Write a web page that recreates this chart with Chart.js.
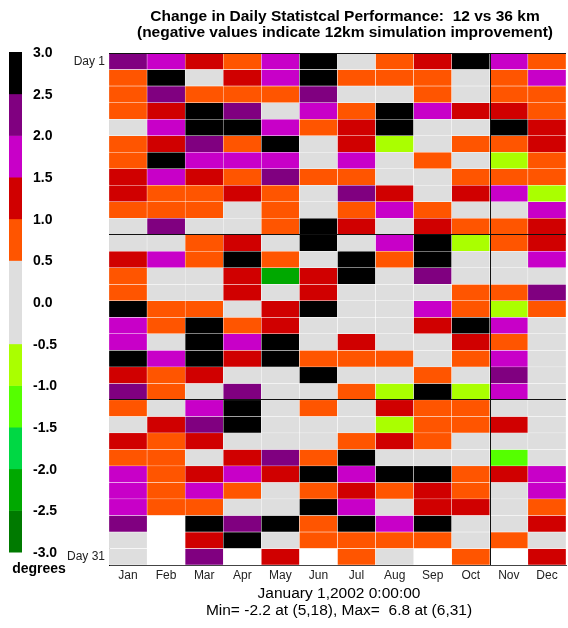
<!DOCTYPE html>
<html>
<head>
<meta charset="utf-8">
<title>Change in Daily Statistcal Performance: 12 vs 36 km</title>
<script src="https://cdn.jsdelivr.net/npm/chart.js@4/dist/chart.umd.min.js"></script>
<style>
    html, body { margin: 0; padding: 0; background: #fff; }
    #wrap { width: 568px; height: 628px; }
</style>
</head>
<body>
<div id="wrap"><canvas id="perfChart" width="568" height="628"></canvas></div>
<script>
// ===================================
// Data (day 1..31 per month, null = no day)
// ===================================
const months = ['Jan', 'Feb', 'Mar', 'Apr', 'May', 'Jun', 'Jul', 'Aug', 'Sep', 'Oct', 'Nov', 'Dec'];

const jan = [2.2,0.7,0.7,0.7,0.1,0.7,0.7,1.2,1.2,0.7,0.1,0.1,1.2,0.7,0.7,2.8,1.7,1.7,2.8,1.2,2.2,0.7,0.1,1.2,0.7,1.7,1.7,1.7,2.2,0.1,0.1];
const feb = [1.7,2.8,2.2,1.2,1.7,1.2,2.8,1.7,0.7,0.7,2.2,0.1,1.7,0.1,0.1,0.7,0.7,0.1,1.7,0.7,0.7,0.1,1.2,0.7,0.7,0.7,0.7,0.7,null,null,null];
const mar = [1.2,0.1,0.7,2.8,2.8,2.2,1.7,1.2,0.7,0.7,0.1,0.7,0.7,0.1,0.1,0.7,2.8,2.8,2.8,1.2,0.1,1.7,2.2,1.2,0.1,1.2,1.7,0.7,2.8,1.2,2.2];
const apr = [0.7,1.2,0.7,2.2,2.8,0.7,1.7,0.7,1.2,0.1,0.1,1.2,2.8,1.2,1.2,0.1,0.7,1.7,1.2,0.1,2.2,2.8,2.8,0.1,1.2,1.7,0.7,0.1,2.2,2.8,null];
const may = [1.7,1.7,0.7,0.1,1.7,2.8,1.7,2.2,0.7,0.7,0.7,0.1,0.7,-2.2,0.1,1.2,1.2,2.8,2.8,0.1,0.1,0.1,0.1,0.1,2.2,1.2,0.1,0.1,2.8,0.1,1.2];
const jun = [6.8,2.8,2.2,1.7,0.7,0.1,0.1,0.7,0.1,0.1,2.8,2.8,0.1,1.2,1.2,2.8,0.1,0.1,0.7,2.8,0.1,0.7,0.1,0.1,0.7,2.8,0.7,2.8,0.7,0.7,null];
const jul = [0.1,0.7,0.1,0.7,1.2,1.2,1.7,0.7,2.2,0.7,1.2,0.1,2.8,2.8,0.1,0.1,0.1,1.2,0.7,0.1,0.7,0.1,0.1,0.7,2.8,1.7,1.2,1.7,2.8,0.7,0.7];
const aug = [0.7,0.7,0.1,2.8,2.8,-0.7,0.1,0.1,1.2,1.7,0.1,1.7,0.7,0.1,0.1,0.1,0.1,0.1,0.7,0.1,-0.7,1.2,-0.7,1.2,0.1,2.8,0.7,0.1,1.7,0.7,0.1];
const sep = [1.2,0.7,0.7,1.7,0.1,0.1,0.7,0.1,0.1,0.7,1.2,2.8,2.8,2.2,0.1,1.7,1.2,0.1,0.1,0.7,2.8,0.7,0.7,0.7,0.1,2.8,1.2,1.2,2.8,0.7,null];
const oct = [2.8,0.1,0.1,1.2,0.1,0.7,0.1,0.7,1.2,0.1,0.7,-0.7,0.1,0.1,0.7,0.7,2.8,1.2,0.7,0.1,-0.7,0.7,0.7,0.1,0.1,0.7,0.7,1.2,0.1,0.1,0.7];
const nov = [1.7,0.7,0.7,1.2,2.8,0.7,-0.7,0.7,1.7,0.1,0.7,0.7,0.1,0.1,0.7,-0.7,1.7,0.7,1.7,2.2,1.7,0.1,1.2,0.1,-1.2,1.2,0.1,0.1,0.1,0.7,null];
const dec = [0.7,1.7,0.7,0.7,1.2,1.2,0.7,0.7,-0.7,1.7,1.2,1.2,1.7,0.1,2.2,0.7,0.1,0.1,0.1,0.1,0.1,0.1,0.1,0.1,0.1,1.7,1.7,0.7,1.2,0.1,1.2];

// colour scale: edges from -3.0 to 3.0, one colour per 0.5 step (bottom to top)
const scaleEdges = [-3.0, -2.5, -2.0, -1.5, -1.0, -0.5, 0.0, 0.5, 1.0, 1.5, 2.0, 2.5, 3.0];
const scaleColors = ['#007a00', '#00a800', '#00d844', '#55ff00', '#aaff00', '#dedede',
                     '#dedede', '#ff5500', '#d00000', '#c800c8', '#800080', '#000000'];

const dayCount = 31;
const separatorDays = [11, 21];
const separatorMonth = 'Oct';

(function() {
    'use strict';

    const monthValues = [jan, feb, mar, apr, may, jun, jul, aug, sep, oct, nov, dec];
    const FONT = '"Liberation Sans", Arial, sans-serif';

    /**
     * Pick the band colour for a value
     */
    function colorFor(v) {
        if (v === null) return 'rgba(0,0,0,0)';
        let i = Math.floor((v - scaleEdges[0]) / 0.5);
        if (i < 0) i = 0;
        if (i > scaleColors.length - 1) i = scaleColors.length - 1;
        return scaleColors[i];
    }

    // one floating-bar dataset per day, spanning [day-1, day] on the y scale
    const datasets = [];
    for (let d = 0; d < dayCount; d++) {
        datasets.push({
            label: 'Day ' + (d + 1),
            data: monthValues.map(col => col[d] === null ? null : [d, d + 1]),
            backgroundColor: monthValues.map(col => colorFor(col[d])),
            borderColor: '#ffffff',
            borderWidth: 0.5,
            borderSkipped: false,
            grouped: false,
            barPercentage: 1,
            categoryPercentage: 1
        });
    }

    // ===================================
    // Extra drawing: title, colour bar, separators, footer
    // ===================================
    const decorPlugin = {
        id: 'decor',
        afterDatasetsDraw(chart) {
            const ctx = chart.ctx;
            const area = chart.chartArea;
            const x = chart.scales.x;
            const y = chart.scales.y;
            ctx.save();
            ctx.strokeStyle = '#111';
            ctx.lineWidth = 1;
            separatorDays.forEach(d => {
                const py = Math.round(y.getPixelForValue(d)) - 0.5;
                ctx.beginPath();
                ctx.moveTo(area.left, py);
                ctx.lineTo(area.right, py);
                ctx.stroke();
            });
            const mi = months.indexOf(separatorMonth);
            const px = Math.round((x.getPixelForValue(mi) + x.getPixelForValue(mi + 1)) / 2) + 0.5;
            ctx.beginPath();
            ctx.moveTo(px, area.top);
            ctx.lineTo(px, area.bottom);
            ctx.stroke();
            // top frame
            ctx.beginPath();
            ctx.moveTo(area.left, area.top + 0.5);
            ctx.lineTo(area.right, area.top + 0.5);
            ctx.stroke();
            ctx.restore();
        },
        afterDraw(chart) {
            const ctx = chart.ctx;
            ctx.save();
            ctx.fillStyle = '#000';
            ctx.textAlign = 'center';
            ctx.textBaseline = 'middle';

            // title
            ctx.font = 'bold 15.5px ' + FONT;
            ctx.fillText('Change in Daily Statistcal Performance:  12 vs 36 km', 345, 17);
            ctx.fillText('(negative values indicate 12km simulation improvement)', 345, 33);

            // footer
            ctx.font = '15.5px ' + FONT;
            ctx.fillText('January 1,2002 0:00:00', 339, 594);
            ctx.fillText('Min= -2.2 at (5,18), Max=  6.8 at (6,31)', 339, 611);

            // colour bar
            const barLeft = 9, barWidth = 13, barTop = 52, barBottom = 552;
            const n = scaleColors.length;
            const step = (barBottom - barTop) / n;
            for (let i = 0; i < n; i++) {
                ctx.fillStyle = scaleColors[i];
                ctx.fillRect(barLeft, barBottom - (i + 1) * step, barWidth, step + 0.5);
            }
            ctx.fillStyle = '#000';
            ctx.font = 'bold 14px ' + FONT;
            ctx.textAlign = 'left';
            scaleEdges.forEach((e, i) => {
                ctx.fillText(e.toFixed(1), 33, barBottom - i * step + 1);
            });
            ctx.textAlign = 'center';
            ctx.fillText('degrees', 39, 569);
            ctx.restore();
        }
    };

    // ===================================
    // Chart
    // ===================================
    new Chart(document.getElementById('perfChart'), {
        type: 'bar',
        data: {
            labels: months,
            datasets: datasets
        },
        options: {
            responsive: false,
            animation: false,
            layout: {
                padding: { top: 53, right: 2, left: 0, bottom: 0 }
            },
            plugins: {
                legend: { display: false },
                title: { display: false },
                tooltip: {
                    callbacks: {
                        label: function(item) {
                            const v = monthValues[item.dataIndex][item.datasetIndex];
                            return item.dataset.label + ': ' + v;
                        }
                    }
                }
            },
            scales: {
                x: {
                    type: 'category',
                    grid: { display: false, drawTicks: false },
                    border: { display: true, color: '#444' },
                    ticks: {
                        color: '#222',
                        padding: 3,
                        maxRotation: 0,
                        autoSkip: false,
                        font: { family: FONT, size: 12 }
                    },
                    afterFit: function(scale) { scale.height = 63; }
                },
                y: {
                    type: 'linear',
                    min: 0,
                    max: dayCount,
                    reverse: true,
                    grid: { display: false, drawTicks: false },
                    border: { display: true, color: '#000' },
                    afterBuildTicks: function(axis) {
                        axis.ticks = [{ value: 0.5 }, { value: dayCount - 0.5 }];
                    },
                    ticks: {
                        color: '#222',
                        padding: 4,
                        autoSkip: false,
                        font: { family: FONT, size: 12 },
                        callback: function(value) {
                            return 'Day ' + (value + 0.5);
                        }
                    },
                    afterFit: function(scale) { scale.width = 109; }
                }
            }
        },
        plugins: [decorPlugin]
    });
})();
</script>
</body>
</html>
